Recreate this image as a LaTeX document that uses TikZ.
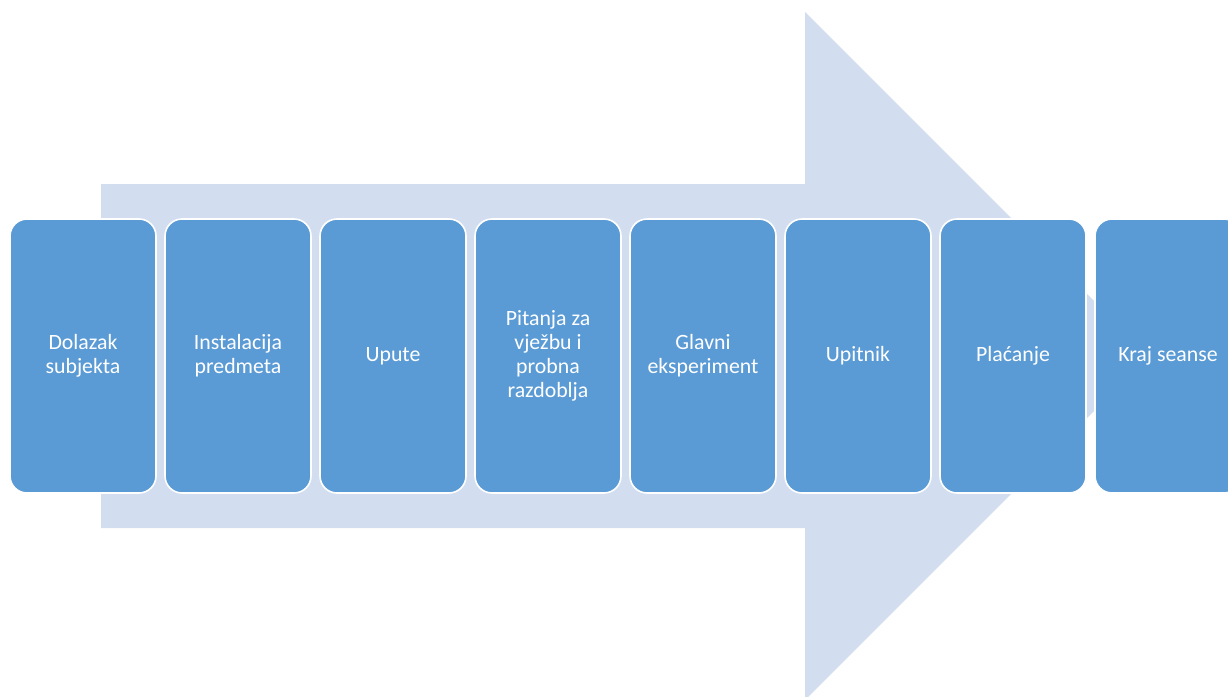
\documentclass[tikz,border=0pt]{standalone}
\usepackage{fontspec}
\setmainfont{Carlito}
\usetikzlibrary{positioning}
\definecolor{stepblue}{HTML}{5B9BD5}
\definecolor{arrowblue}{HTML}{D2DEEF}
\tikzset{
  phase/.style={draw=white, line width=1.6pt, fill=stepblue, rounded corners=17pt,
    minimum width=146pt, minimum height=274pt, inner sep=0pt, text=white,
    align=center, font=\fontsize{21.8}{24}\selectfont},
}
\begin{document}
\begin{tikzpicture}[x=1pt,y=-1pt,node distance=7.4pt]
  \useasboundingbox (0,0) rectangle (1228,696);
  \clip (0,0) rectangle (1228,696);
  % big background arrow
  \fill[arrowblue] (101,184) -- (805,184) -- (805,12) -- (1149,356) -- (805,700) -- (805,528) -- (101,528) -- cycle;
  % steps
  \node[phase] (dolazak) at (83,356) {Dolazak\\subjekta};
  \node[phase, right=of dolazak] (instalacija) {Instalacija\\predmeta};
  \node[phase, right=of instalacija] (upute) {Upute};
  \node[phase, right=of upute] (pitanja) {Pitanja za\\vježbu i\\probna\\razdoblja};
  \node[phase, right=of pitanja] (glavni) {Glavni\\eksperiment};
  \node[phase, right=of glavni] (upitnik) {Upitnik};
  \node[phase, right=of upitnik] (placanje) {Plaćanje};
  \node[phase, right=of placanje] (kraj) {Kraj seanse};
\end{tikzpicture}
\end{document}
